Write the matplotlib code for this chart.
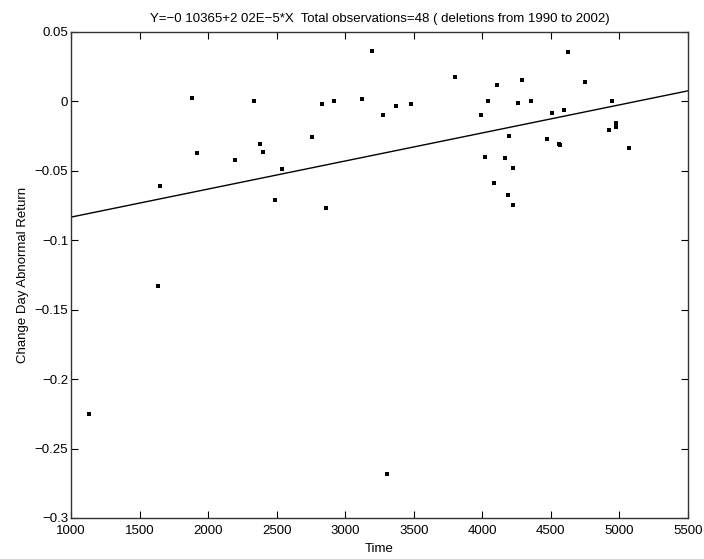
import numpy as np
import matplotlib
matplotlib.use("Agg")
import matplotlib.pyplot as plt

# deletion events: time vs change day abnormal return
time = [1133, 1637, 1649, 1882, 1917, 2194, 2335, 2378, 2398, 2490,
        2541, 2755, 2828, 2860, 2921, 3125, 3198, 3278, 3307, 3373,
        3483, 3801, 3990, 4017, 4039, 4088, 4107, 4168, 4187, 4194,
        4221, 4224, 4258, 4287, 4357, 4474, 4510, 4559, 4566, 4598,
        4625, 4747, 4922, 4946, 4972, 4977, 5070, 4357]
abn_return = [-0.2254, -0.1328, -0.0613, 0.0024, -0.0370, -0.0420, 0.0000, -0.0308, -0.0366, -0.0714,
              -0.0488, -0.0260, -0.0019, -0.0767, -0.0002, 0.0014, 0.0358, -0.0096, -0.2686, -0.0038,
              -0.0019, 0.0175, -0.0103, -0.0400, 0.0000, -0.0587, 0.0118, -0.0409, -0.0678, -0.0253,
              -0.0748, -0.0483, -0.0014, 0.0149, 0.0000, -0.0269, -0.0087, -0.0305, -0.0317, -0.0067,
              0.0351, 0.0137, -0.0211, 0.0000, -0.0188, -0.0154, -0.0337, 0.0000]

# fitted line from the title
intercept = -0.10365
slope = 2.02e-5
x_range = [1000, 5500]

xticks = [1000, 1500, 2000, 2500, 3000, 3500, 4000, 4500, 5000, 5500]
yticks = [-0.3, -0.25, -0.2, -0.15, -0.1, -0.05, 0, 0.05]
ytick_labels = ["\u22120.3", "\u22120.25", "\u22120.2", "\u22120.15", "\u22120.1", "\u22120.05", "0", "0.05"]

plt.rcParams['font.family'] = ['Liberation Sans', 'DejaVu Sans']

fig = plt.figure(figsize=(7.04, 5.59), dpi=100)
ax = fig.add_axes([71/704, 1 - 518/559, 617/704, (518 - 31.7)/559])

ax.plot(time, abn_return, linestyle='none', marker='s', markersize=2.3,
        color='black', markeredgewidth=0)
xl = np.array(x_range)
ax.plot(xl, intercept + slope * xl, color='black', linewidth=1.0)

ax.set_xlim(x_range)
ax.set_ylim(-0.3, 0.05)
ax.set_xticks(xticks)
ax.set_xticklabels([str(t) for t in xticks])
ax.set_yticks(yticks)
ax.set_yticklabels(ytick_labels)
ax.tick_params(direction='in', length=5, width=0.8, top=True, right=True,
               labelsize=9.5, pad=2, colors='black')
ax.tick_params(axis='x', pad=5)
for s in ax.spines.values():
    s.set_linewidth(1.0)
    s.set_color('#333333')

ax.set_title("Y=\u22120 10365+2 02E\u22125*X  Total observations=48 ( deletions from 1990 to 2002)",
             fontsize=9.5, pad=7)
ax.set_xlabel("Time", fontsize=9.5, labelpad=4)
ax.set_ylabel("Change Day Abnormal Return", fontsize=9.5, labelpad=4)

fig.savefig("out.png", dpi=100)
